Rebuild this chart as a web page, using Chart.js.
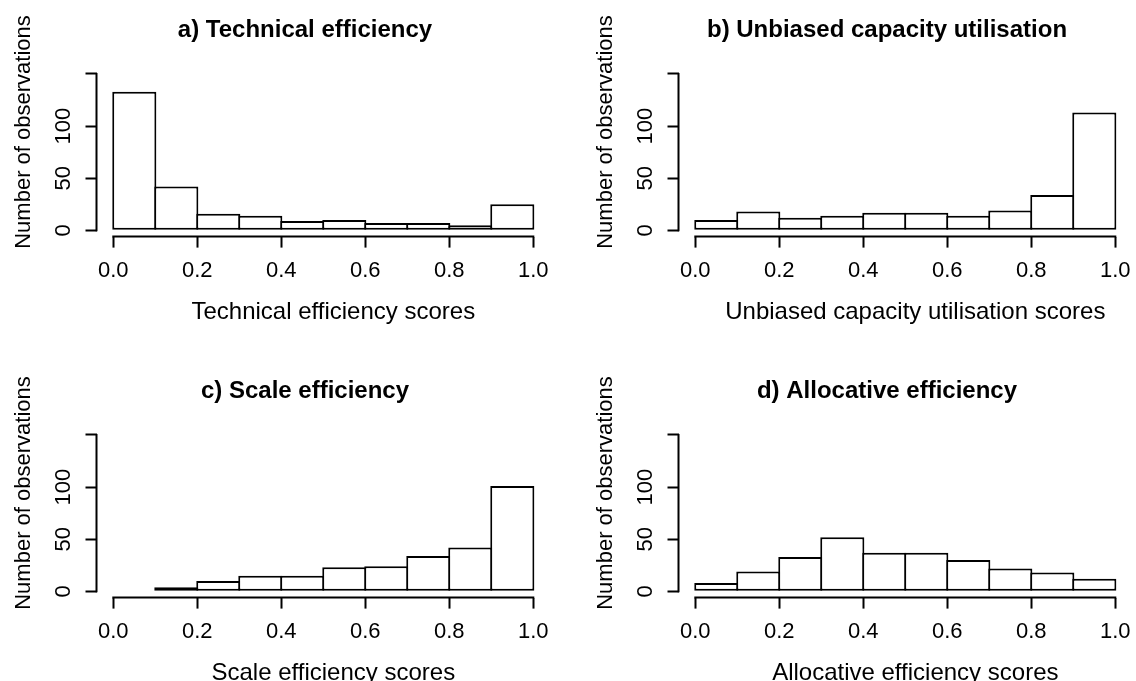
<!DOCTYPE html>
<html>
<head>
<meta charset="utf-8">
<title>Efficiency score histograms</title>
<script src="https://cdn.jsdelivr.net/npm/chart.js@4.4.1/dist/chart.umd.min.js"></script>
<style>
  html, body { margin: 0; padding: 0; background: #fff; }
  body { position: relative; width: 1136px; height: 681px; overflow: hidden; }
  canvas { position: absolute; }
  #histA { left: 0; top: 0; }
  #histB { left: 582px; top: 0; }
  #histC { left: 0; top: 361px; }
  #histD { left: 582px; top: 361px; }
</style>
</head>
<body>
<canvas id="histA" width="614" height="340"></canvas>
<canvas id="histB" width="614" height="340"></canvas>
<canvas id="histC" width="614" height="340"></canvas>
<canvas id="histD" width="614" height="340"></canvas>
<script>
// histogram bins are 0.1 wide on the 0-1 score range (bin mid points)
const binMids = [0.05, 0.15, 0.25, 0.35, 0.45, 0.55, 0.65, 0.75, 0.85, 0.95];

// number of observations per bin
const technicalCounts = [133, 42, 16, 14, 9, 10, 7, 7, 5, 25];
const capacityCounts = [10, 18, 12, 14, 17, 17, 14, 19, 34, 113];
const scaleCounts = [0, 4, 10, 15, 15, 23, 24, 34, 42, 101];
const allocativeCounts = [8, 19, 33, 52, 37, 37, 30, 22, 18, 12];

const xTicks = [0, 0.2, 0.4, 0.6, 0.8, 1];
const yTicks = [0, 50, 100, 150];
const yTickLabels = ['0', '50', '100', ''];

const FONT = "'Liberation Sans', Arial, Helvetica, sans-serif";
Chart.defaults.font.family = FONT;
Chart.defaults.color = '#000';

// R style axes: the axis line only runs from the first to the last tick
const rAxisLines = {
  id: 'rAxisLines',
  afterDraw(chart) {
    const ctx = chart.ctx;
    const x = chart.scales.x;
    const y = chart.scales.y;
    ctx.save();
    ctx.strokeStyle = '#000';
    ctx.lineWidth = 2;
    ctx.lineCap = 'square';
    ctx.beginPath();
    ctx.moveTo(x.getPixelForValue(xTicks[0]), x.top);
    ctx.lineTo(x.getPixelForValue(xTicks[xTicks.length - 1]), x.top);
    ctx.moveTo(y.right, y.getPixelForValue(yTicks[0]));
    ctx.lineTo(y.right, y.getPixelForValue(yTicks[yTicks.length - 1]));
    ctx.stroke();
    ctx.restore();
  }
};

const tickGrid = {
  display: true,
  drawOnChartArea: false,
  offset: false,
  tickLength: 11,
  tickWidth: 2,
  tickColor: '#000'
};

function makeHistogram(canvasId, title, xTitle, counts) {
  const ctx = document.getElementById(canvasId).getContext('2d');
  return new Chart(ctx, {
    type: 'bar',
    data: {
      datasets: [{
        data: binMids.map((m, i) => ({ x: m, y: counts[i] })),
        backgroundColor: '#fff',
        borderColor: '#000',
        borderWidth: 2,
        borderSkipped: false,
        barPercentage: 1.05,   // bars overlap by one border width so shared edges stay thin
        categoryPercentage: 1,
        xAxisID: 'x',
        yAxisID: 'y'
      }]
    },
    options: {
      responsive: false,
      animation: false,
      devicePixelRatio: 1,
      layout: { padding: { top: 0, right: 4, bottom: 0, left: 0 } },
      scales: {
        x: {
          type: 'linear',
          min: -0.04,
          max: 1.0876,          // a bit of room on the right, the axis title sits off-centre
          offset: false,
          afterBuildTicks: s => { s.ticks = xTicks.map(v => ({ value: v })); },
          afterFit: s => { s.height = 103.4; },
          grid: tickGrid,
          border: { display: false },
          ticks: {
            autoSkip: false,
            maxRotation: 0,
            padding: 10,
            color: '#000',
            font: { size: 22 },
            callback: v => v.toFixed(1)
          },
          title: {
            display: true,
            text: xTitle,
            color: '#000',
            font: { size: 24 },
            padding: { top: 0, bottom: 13.6 }
          }
        },
        y: {
          type: 'linear',
          min: -6,
          max: 194.7,           // plot area runs up behind the title
          afterBuildTicks: s => { s.ticks = yTicks.map(v => ({ value: v })); },
          afterFit: s => { s.width = 96.5; },
          grid: tickGrid,
          border: { display: false },
          ticks: {
            autoSkip: false,
            minRotation: 90,
            maxRotation: 90,
            crossAlign: 'center',
            padding: 3,
            color: '#000',
            font: { size: 22 },
            callback: (v, i) => yTickLabels[i]
          },
          title: {
            display: true,
            text: 'Number of observations',
            color: '#000',
            font: { size: 22 },
            padding: { top: 11, bottom: 0 }
          }
        },
        // empty right-hand box, keeps the main title centred like the original
        pad: {
          axis: 'y',
          position: 'right',
          display: true,
          grid: { display: false },
          border: { display: false },
          ticks: { display: false },
          afterFit: s => { s.width = 39.9; }
        }
      },
      plugins: {
        legend: { display: false },
        tooltip: { enabled: false },
        title: {
          display: true,
          text: title,
          color: '#000',
          font: { size: 24, weight: 'bold' },
          padding: { top: 15.6, bottom: -17 }
        }
      }
    },
    plugins: [rAxisLines]
  });
}

makeHistogram('histA', 'a) Technical efficiency', 'Technical efficiency scores', technicalCounts);
makeHistogram('histB', 'b) Unbiased capacity utilisation', 'Unbiased capacity utilisation scores', capacityCounts);
makeHistogram('histC', 'c) Scale efficiency', 'Scale efficiency scores', scaleCounts);
makeHistogram('histD', 'd) Allocative efficiency', 'Allocative efficiency scores', allocativeCounts);
</script>
</body>
</html>
